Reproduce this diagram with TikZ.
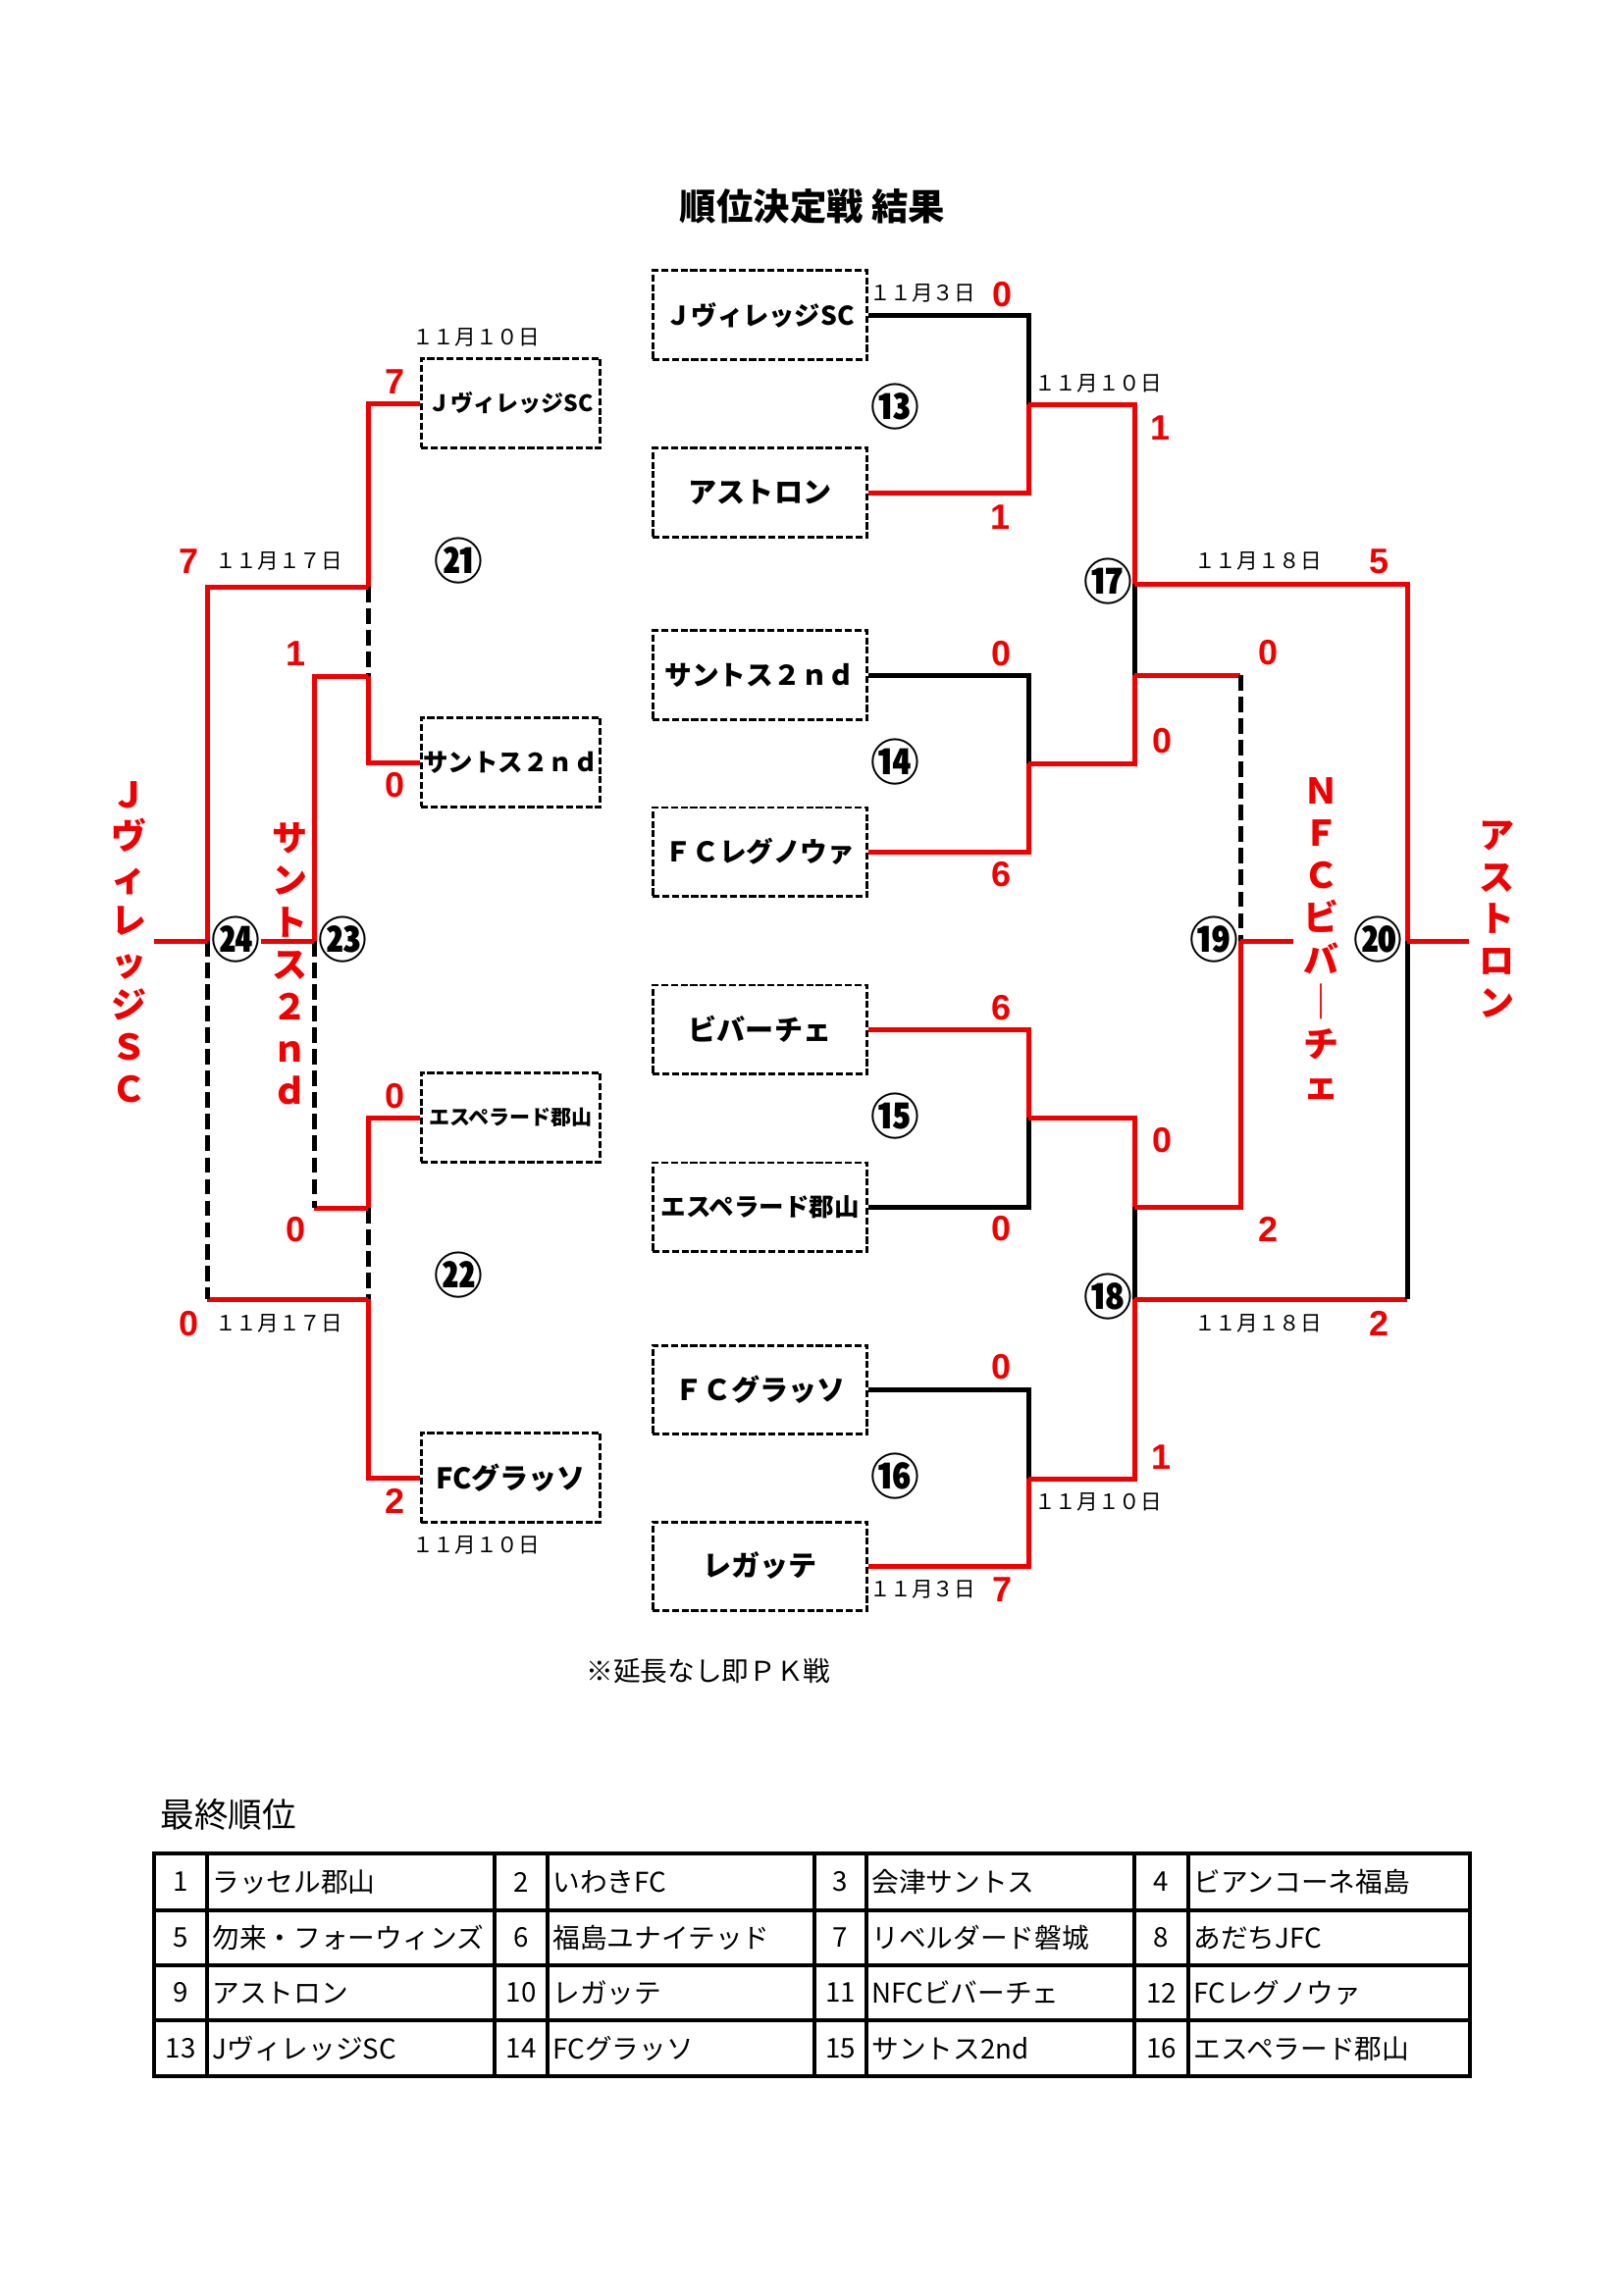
\documentclass[tikz,border=0pt]{standalone}
\usepackage{fontspec}
\setmainfont{Noto Sans CJK JP}
\newfontfamily\scorefont{Liberation Sans}
\definecolor{BracketRed}{HTML}{F00000}
\definecolor{BracketInk}{HTML}{000000}
\tikzset{
  bracket title/.style={
    inner sep=0pt,
    font=\bfseries\fontsize{13.5}{15}\selectfont
  },
  bracket team/.style={
    draw=BracketInk,
    line width=0.38mm,
    dash pattern=on 0.9mm off 0.35mm,
    minimum width=27.8mm,
    minimum height=11.43mm,
    inner sep=0pt,
    font=\bfseries\fontsize{10.5}{12}\selectfont
  },
  bracket seed/.style={
    bracket team,
    minimum width=23.2mm,
    minimum height=11.55mm
  },
  bracket win/.style={draw=BracketRed,line width=0.635mm},
  bracket lose/.style={draw=BracketInk,line width=0.635mm},
  bracket skip/.style={draw=BracketInk,line width=0.635mm,dash pattern=on 2mm off 0.8mm},
  bracket score/.style={
    text=BracketRed,
    inner sep=0pt,
    font=\scorefont\bfseries\fontsize{13}{15}\selectfont
  },
  bracket date/.style={
    inner sep=0pt,
    font=\fontsize{7.8}{9}\selectfont
  },
  bracket match/.style={
    inner sep=0pt,
    font=\bfseries\fontsize{18}{20}\selectfont
  },
  bracket result/.style={
    text=BracketRed,
    align=center,
    inner sep=0pt,
    font=\bfseries\fontsize{13}{15.5}\selectfont
  },
  rank line/.style={draw=BracketInk,line width=0.4mm},
  rank cell/.style={
    inner sep=0pt,
    font=\fontsize{10}{12}\selectfont
  }
}

\begin{document}
\begin{tikzpicture}[x=0.12697mm,y=-0.12697mm]
  \fill[white] (0,0) rectangle (1654,2338);
  \useasboundingbox (0,0) rectangle (1654,2338);

  \node[bracket title] (title) at (828,210) {順位決定戦 結果};

  % first round teams
  \node[bracket team,font=\bfseries\fontsize{9.5}{11}\selectfont] (b13a) at (774.5,321) {ＪヴィレッジSC};
  \node[bracket team] (b13b) at (774.5,502) {アストロン};
  \node[bracket team,font=\bfseries\fontsize{10}{12}\selectfont] (b14a) at (774.5,688) {サントス２ｎｄ};
  \node[bracket team,font=\bfseries\fontsize{10}{12}\selectfont] (b14b) at (774.5,868) {ＦＣレグノウァ};
  \node[bracket team] (b15a) at (774.5,1049) {ビバーチェ};
  \node[bracket team,font=\bfseries\fontsize{9.2}{11}\selectfont] (b15b) at (774.5,1230) {エスペラード郡山};
  \node[bracket team] (b16a) at (774.5,1416) {ＦＣグラッソ};
  \node[bracket team] (b16b) at (774.5,1596) {レガッテ};

  % losers bracket teams
  \node[bracket seed,font=\bfseries\fontsize{8.3}{10}\selectfont] (b21a) at (520.5,411) {ＪヴィレッジSC};
  \node[bracket seed,font=\bfseries\fontsize{9.2}{11}\selectfont] (b21b) at (520.5,777) {サントス２ｎｄ};
  \node[bracket seed,font=\bfseries\fontsize{7.6}{9}\selectfont] (b22a) at (520.5,1139) {エスペラード郡山};
  \node[bracket seed] (b22b) at (520.5,1506) {FCグラッソ};

  % junctions
  \coordinate (j13) at (1048,412);
  \coordinate (j14) at (1048,778);
  \coordinate (j15) at (1048,1139);
  \coordinate (j16) at (1048,1507);
  \coordinate (j17) at (1156,595);
  \coordinate (l17) at (1156,688);
  \coordinate (l18) at (1156,1230);
  \coordinate (j18) at (1156,1324);
  \coordinate (t19) at (1264,688);
  \coordinate (j19) at (1264,959);
  \coordinate (o19) at (1318,959);
  \coordinate (j20) at (1434,959);
  \coordinate (b20) at (1434,1324);
  \coordinate (o20) at (1497,959);

  \coordinate (j21) at (375,598);
  \coordinate (l21) at (375,689);
  \coordinate (l22) at (375,1231);
  \coordinate (j22) at (375,1324);
  \coordinate (j23) at (320,959);
  \coordinate (b23) at (320,1231);
  \coordinate (o23) at (266,959);
  \coordinate (j24) at (211,959);
  \coordinate (b24) at (211,1324);
  \coordinate (o24) at (157,959);

  % right side lines
  \draw[bracket lose] (b13a.east) -| (j13);
  \draw[bracket win] (b13b.east) -| (j13);
  \draw[bracket lose] (b14a.east) -| (j14);
  \draw[bracket win] (b14b.east) -| (j14);
  \draw[bracket win] (b15a.east) -| (j15);
  \draw[bracket lose] (b15b.east) -| (j15);
  \draw[bracket lose] (b16a.east) -| (j16);
  \draw[bracket win] (b16b.east) -| (j16);

  \draw[bracket win] (j13) -| (j17);
  \draw[bracket lose] (j17) -- (l17);
  \draw[bracket win] (j14) -| (l17);
  \draw[bracket win] (j15) -| (l18);
  \draw[bracket lose] (l18) -- (j18);
  \draw[bracket win] (j16) -| (j18);

  \draw[bracket win] (l17) -- (t19);
  \draw[bracket skip] (t19) -- (j19);
  \draw[bracket win] (l18) -| (j19);
  \draw[bracket win] (j19) -- (o19);

  \draw[bracket win] (j17) -| (j20);
  \draw[bracket win] (j18) -- (b20);
  \draw[bracket lose] (b20) -- (j20);
  \draw[bracket win] (j20) -- (o20);

  % left side lines
  \draw[bracket win] (b21a.west) -| (j21);
  \draw[bracket skip] (j21) -- (l21);
  \draw[bracket win] (b21b.west) -| (l21);
  \draw[bracket win] (b22a.west) -| (l22);
  \draw[bracket skip] (l22) -- (j22);
  \draw[bracket win] (b22b.west) -| (j22);

  \draw[bracket win] (l21) -| (j23);
  \draw[bracket win] (l22) -- (b23);
  \draw[bracket skip] (j23) -- (b23);
  \draw[bracket win] (j23) -- (o23);

  \draw[bracket win] (j21) -| (j24);
  \draw[bracket win] (j22) -- (b24);
  \draw[bracket skip] (j24) -- (b24);
  \draw[bracket win] (j24) -- (o24);

  % match numbers
  \node[bracket match] (c13) at (912,415) {⑬};
  \node[bracket match] (c14) at (912,777) {⑭};
  \node[bracket match] (c15) at (912,1138) {⑮};
  \node[bracket match] (c16) at (912,1505) {⑯};
  \node[bracket match] (c17) at (1129,593) {⑰};
  \node[bracket match] (c18) at (1129,1322) {⑱};
  \node[bracket match] (c19) at (1237,958) {⑲};
  \node[bracket match] (c20) at (1404,958) {⑳};
  \node[bracket match] (c21) at (467,572) {㉑};
  \node[bracket match] (c22) at (467,1300) {㉒};
  \node[bracket match] (c23) at (349,958) {㉓};
  \node[bracket match] (c24) at (240,958) {㉔};

  % scores
  \node[bracket score] (s13a) at (1021,300) {0};
  \node[bracket score] (s13b) at (1019,527) {1};
  \node[bracket score] (s14a) at (1020,666) {0};
  \node[bracket score] (s14b) at (1020,891) {6};
  \node[bracket score] (s15a) at (1020,1027) {6};
  \node[bracket score] (s15b) at (1020,1252) {0};
  \node[bracket score] (s16a) at (1020,1393) {0};
  \node[bracket score] (s16b) at (1021,1620) {7};
  \node[bracket score] (s17a) at (1182,436) {1};
  \node[bracket score] (s17b) at (1184,755) {0};
  \node[bracket score] (s18a) at (1184,1162) {0};
  \node[bracket score] (s18b) at (1183,1485) {1};
  \node[bracket score] (s19a) at (1292,665) {0};
  \node[bracket score] (s19b) at (1292,1253) {2};
  \node[bracket score] (s20a) at (1405,572) {5};
  \node[bracket score] (s20b) at (1405,1349) {2};
  \node[bracket score] (s21a) at (403,389) {7};
  \node[bracket score] (s21b) at (403,800) {0};
  \node[bracket score] (s22a) at (403,1117) {0};
  \node[bracket score] (s22b) at (403,1530) {2};
  \node[bracket score] (s23a) at (302,666) {1};
  \node[bracket score] (s23b) at (302,1253) {0};
  \node[bracket score] (s24a) at (193,572) {7};
  \node[bracket score] (s24b) at (193,1349) {0};

  % dates
  \node[bracket date] (d13) at (940,299) {１１月３日};
  \node[bracket date] (d16) at (940,1620) {１１月３日};
  \node[bracket date] (d17) at (1119,391) {１１月１０日};
  \node[bracket date] (d18) at (1119,1531) {１１月１０日};
  \node[bracket date] (d20a) at (1282,572) {１１月１８日};
  \node[bracket date] (d20b) at (1282,1349) {１１月１８日};
  \node[bracket date] (d21) at (485,344) {１１月１０日};
  \node[bracket date] (d22) at (485,1575) {１１月１０日};
  \node[bracket date] (d24a) at (284,572) {１１月１７日};
  \node[bracket date] (d24b) at (284,1349) {１１月１７日};

  % placings
  \node[bracket result] (w24) at (131,960) {Ｊ\\ヴ\\ィ\\レ\\ッ\\ジ\\Ｓ\\Ｃ};
  \node[bracket result] (w23) at (295,982) {サ\\ン\\ト\\ス\\２\\ｎ\\ｄ};
  \node[bracket result] (w19) at (1346,957) {Ｎ\\Ｆ\\Ｃ\\ビ\\バ\\｜\\チ\\ェ};
  \node[bracket result] (w20) at (1525,937) {ア\\ス\\ト\\ロ\\ン};

  \node[inner sep=0pt,font=\fontsize{10}{12}\selectfont] (note) at (722,1703) {※延長なし即ＰＫ戦};

  % final ranking
  \node[inner sep=0pt,anchor=west,font=\fontsize{12.5}{14}\selectfont] (ranktitle) at (163,1849) {最終順位};
  \draw[rank line,line width=0.5mm] (157,1889) rectangle (1498,2116);
  \draw[rank line] (157,1947) -- (1498,1947);
  \draw[rank line] (157,2003) -- (1498,2003);
  \draw[rank line] (157,2059) -- (1498,2059);
  \draw[rank line] (211,1889) -- (211,2116);
  \draw[rank line] (504,1889) -- (504,2116);
  \draw[rank line] (558,1889) -- (558,2116);
  \draw[rank line] (830,1889) -- (830,2116);
  \draw[rank line] (883,1889) -- (883,2116);
  \draw[rank line] (1156,1889) -- (1156,2116);
  \draw[rank line] (1211,1889) -- (1211,2116);

  \node[rank cell] (n1) at (184,1918) {1};
  \node[rank cell,anchor=west] (t1) at (216,1918) {ラッセル郡山};
  \node[rank cell] (n2) at (531,1918) {2};
  \node[rank cell,anchor=west] (t2) at (563,1918) {いわきFC};
  \node[rank cell] (n3) at (856.5,1918) {3};
  \node[rank cell,anchor=west] (t3) at (888,1918) {会津サントス};
  \node[rank cell] (n4) at (1183.5,1918) {4};
  \node[rank cell,anchor=west] (t4) at (1216,1918) {ビアンコーネ福島};

  \node[rank cell] (n5) at (184,1975) {5};
  \node[rank cell,anchor=west] (t5) at (216,1975) {勿来・フォーウィンズ};
  \node[rank cell] (n6) at (531,1975) {6};
  \node[rank cell,anchor=west] (t6) at (563,1975) {福島ユナイテッド};
  \node[rank cell] (n7) at (856.5,1975) {7};
  \node[rank cell,anchor=west] (t7) at (888,1975) {リベルダード磐城};
  \node[rank cell] (n8) at (1183.5,1975) {8};
  \node[rank cell,anchor=west] (t8) at (1216,1975) {あだちJFC};

  \node[rank cell] (n9) at (184,2031) {9};
  \node[rank cell,anchor=west] (t9) at (216,2031) {アストロン};
  \node[rank cell] (n10) at (531,2031) {10};
  \node[rank cell,anchor=west] (t10) at (563,2031) {レガッテ};
  \node[rank cell] (n11) at (856.5,2031) {11};
  \node[rank cell,anchor=west] (t11) at (888,2031) {NFCビバーチェ};
  \node[rank cell] (n12) at (1183.5,2031) {12};
  \node[rank cell,anchor=west] (t12) at (1216,2031) {FCレグノウァ};

  \node[rank cell] (n13) at (184,2088) {13};
  \node[rank cell,anchor=west] (t13) at (216,2088) {JヴィレッジSC};
  \node[rank cell] (n14) at (531,2088) {14};
  \node[rank cell,anchor=west] (t14) at (563,2088) {FCグラッソ};
  \node[rank cell] (n15) at (856.5,2088) {15};
  \node[rank cell,anchor=west] (t15) at (888,2088) {サントス2nd};
  \node[rank cell] (n16) at (1183.5,2088) {16};
  \node[rank cell,anchor=west] (t16) at (1216,2088) {エスペラード郡山};
\end{tikzpicture}
\end{document}
